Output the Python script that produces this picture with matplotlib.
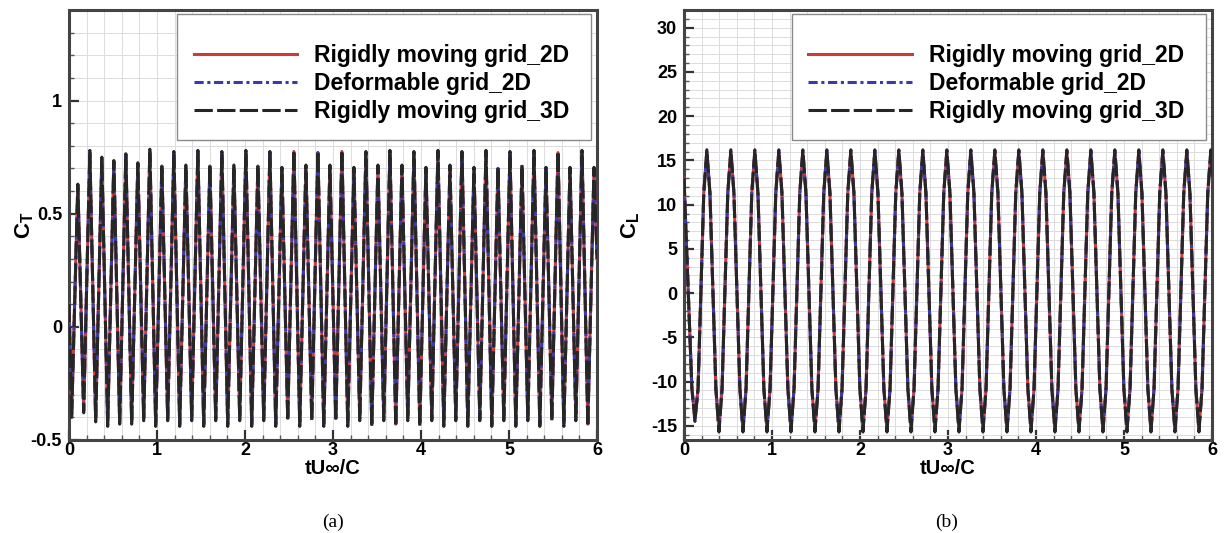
import numpy as np
import matplotlib
matplotlib.use("Agg")
import matplotlib.pyplot as plt
from matplotlib.ticker import MultipleLocator

plt.rcParams['font.family'] = ['Liberation Sans', 'DejaVu Sans']
plt.rcParams['font.weight'] = 'bold'
plt.rcParams['axes.unicode_minus'] = False
plt.rcParams['mathtext.fontset'] = 'custom'
plt.rcParams['mathtext.rm'] = 'Liberation Sans:bold'
plt.rcParams['mathtext.bf'] = 'Liberation Sans:bold'
plt.rcParams['mathtext.it'] = 'Liberation Sans:bold'

# ---------------- data ----------------
series_labels = ["Rigidly moving grid_2D", "Deformable grid_2D", "Rigidly moving grid_3D"]

# Thrust coefficient C_T : extrema of the oscillation
CT_start = [0.0, 0.10]            # (t, value) at t = 0
CT_end = [6.0, 0.30]              # (t, value) at right edge
CT_peak_t0, CT_trough_t0, CT_period = 0.10, 0.03, 0.1364
CT_peaks_2D = [0.63, 0.77, 0.745, 0.73, 0.76, 0.72, 0.78, 0.71, 0.77, 0.71, 0.775, 0.71,
               0.77, 0.71, 0.775, 0.71, 0.77, 0.70, 0.775, 0.71, 0.77, 0.71, 0.775, 0.70,
               0.77, 0.71, 0.775, 0.71, 0.77, 0.70, 0.775, 0.71, 0.77, 0.70, 0.775, 0.70,
               0.77, 0.71, 0.775, 0.70, 0.77, 0.70, 0.775, 0.70]
CT_troughs_2D = [-0.39, -0.37, -0.41, -0.43, -0.42, -0.42, -0.405, -0.43, -0.405, -0.43, -0.405, -0.43,
                 -0.405, -0.43, -0.405, -0.43, -0.405, -0.43, -0.405, -0.43, -0.405, -0.43, -0.405, -0.43,
                 -0.405, -0.43, -0.405, -0.43, -0.405, -0.43, -0.405, -0.43, -0.405, -0.43, -0.405, -0.43,
                 -0.405, -0.43, -0.405, -0.43, -0.405, -0.43, -0.405, -0.43]
CT_peaks_3D = [0.63, 0.78, 0.75, 0.735, 0.765, 0.725, 0.785, 0.715, 0.775, 0.715, 0.78, 0.715,
               0.775, 0.715, 0.78, 0.715, 0.775, 0.705, 0.78, 0.715, 0.775, 0.715, 0.78, 0.705,
               0.775, 0.715, 0.78, 0.715, 0.775, 0.705, 0.78, 0.715, 0.775, 0.705, 0.78, 0.705,
               0.775, 0.715, 0.78, 0.705, 0.775, 0.705, 0.78, 0.705]
CT_troughs_3D = [-0.40, -0.38, -0.42, -0.44, -0.43, -0.43, -0.415, -0.44, -0.415, -0.44, -0.415, -0.44,
                 -0.415, -0.44, -0.415, -0.44, -0.415, -0.44, -0.415, -0.44, -0.415, -0.44, -0.415, -0.44,
                 -0.415, -0.44, -0.415, -0.44, -0.415, -0.44, -0.415, -0.44, -0.415, -0.44, -0.415, -0.44,
                 -0.415, -0.44, -0.415, -0.44, -0.415, -0.44, -0.415, -0.44]

# Lift coefficient C_L : extrema of the oscillation, plus estimated shoulders
CL_start = [0.0, 13.0]
CL_peak_t0, CL_trough_t0, CL_period = 0.26, 0.125, 0.2727
CL_peaks_2D = [16.0, 16.0, 16.0, 16.0, 16.0, 16.0, 16.0, 16.0, 16.0, 16.0, 16.0,
               16.0, 16.0, 16.0, 16.0, 16.0, 16.0, 16.0, 16.0, 16.0, 16.0, 16.0]
CL_troughs_2D = [-14.2, -15.4, -15.4, -15.4, -15.4, -15.4, -15.4, -15.4, -15.4, -15.4, -15.4,
                 -15.4, -15.4, -15.4, -15.4, -15.4, -15.4, -15.4, -15.4, -15.4, -15.4, -15.4]
CL_peaks_3D = [16.2, 16.2, 16.2, 16.2, 16.2, 16.2, 16.2, 16.2, 16.2, 16.2, 16.2,
               16.2, 16.2, 16.2, 16.2, 16.2, 16.2, 16.2, 16.2, 16.2, 16.2, 16.2]
CL_troughs_3D = [-14.5, -15.7, -15.7, -15.7, -15.7, -15.7, -15.7, -15.7, -15.7, -15.7, -15.7,
                 -15.7, -15.7, -15.7, -15.7, -15.7, -15.7, -15.7, -15.7, -15.7, -15.7, -15.7]
CL_shoulder_dt = 0.035            # time offset of shoulder points from each extremum
CL_shoulder_hi = 11.3             # curve value that far from a peak
CL_shoulder_lo = -10.8            # curve value that far from a trough

x_ticks = [0, 1, 2, 3, 4, 5, 6]
CT_yticks = [-0.5, 0, 0.5, 1]
CT_yticklabels = ["-0.5", "0", "0.5", "1"]
CL_yticks = [-15, -10, -5, 0, 5, 10, 15, 20, 25, 30]


def assemble(start, peak_t0, trough_t0, period, peaks, troughs, end=None, shoulder=None):
    tp = peak_t0 + period * np.arange(len(peaks))
    tt = trough_t0 + period * np.arange(len(troughs))
    t = [np.array([start[0]]), tp, tt]
    v = [np.array([start[1]]), np.asarray(peaks, float), np.asarray(troughs, float)]
    if shoulder is not None:
        dt, hi, lo = shoulder
        for s in (-dt, dt):
            t.append(tp + s); v.append(np.full(len(tp), hi))
            t.append(tt + s); v.append(np.full(len(tt), lo))
    if end is not None:
        t.append(np.array([end[0]])); v.append(np.array([end[1]]))
    t = np.concatenate(t); v = np.concatenate(v)
    keep = t >= start[0]
    t, v = t[keep], v[keep]
    order = np.argsort(t)
    return t[order], v[order]


styles = [
    dict(color="#cc3b3b", lw=2.2, ls="-", zorder=3),
    dict(color="#3a3aa8", lw=2.2, ls=(0, (3, 1.2, 1, 1.2)), zorder=4),
    dict(color="#262626", lw=2.2, ls=(0, (6, 1.4)), zorder=5),
]

fig = plt.figure(figsize=(12.24, 5.33), dpi=100)
ax1 = fig.add_axes([0.0564, 0.1745, 0.4314, 0.8067])
ax2 = fig.add_axes([0.5588, 0.1745, 0.4314, 0.8067])

ct_sets = [(CT_peaks_2D, CT_troughs_2D), (CT_peaks_2D, CT_troughs_2D), (CT_peaks_3D, CT_troughs_3D)]
cl_sets = [(CL_peaks_2D, CL_troughs_2D), (CL_peaks_2D, CL_troughs_2D), (CL_peaks_3D, CL_troughs_3D)]

for lab, st, (pk, tr) in zip(series_labels, styles, ct_sets):
    t, v = assemble(CT_start, CT_peak_t0, CT_trough_t0, CT_period, pk, tr, CT_end)
    ax1.plot(t, v, label=lab, **st)
for lab, st, (pk, tr) in zip(series_labels, styles, cl_sets):
    t, v = assemble(CL_start, CL_peak_t0, CL_trough_t0, CL_period, pk, tr,
                    shoulder=(CL_shoulder_dt, CL_shoulder_hi, CL_shoulder_lo))
    ax2.plot(t, v, label=lab, **st)

ax1.set_ylim(-0.5, 1.4)
ax1.set_yticks(CT_yticks)
ax1.set_yticklabels(CT_yticklabels)
ax1.yaxis.set_minor_locator(MultipleLocator(0.1))
ax2.set_ylim(-16.6, 32)
ax2.set_yticks(CL_yticks)
ax2.yaxis.set_minor_locator(MultipleLocator(1))

for ax, ylab, lx in [(ax1, r'$\mathbf{C_T}$', -0.062), (ax2, r'$\mathbf{C_L}$', -0.080)]:
    ax.set_xlim(0, 6)
    ax.set_xticks(x_ticks)
    ax.xaxis.set_minor_locator(MultipleLocator(0.2))
    ax.grid(which='both', color='#dcdcdc', lw=0.7, zorder=0)
    ax.set_axisbelow(True)
    for sp in ax.spines.values():
        sp.set_linewidth(2.2)
        sp.set_color('#444444')
    ax.tick_params(which='major', direction='in', length=7, width=1.6, color='#333333',
                   labelsize=13, top=False, right=False)
    ax.tick_params(axis='x', which='major', pad=1.5)
    ax.tick_params(axis='y', which='major', pad=5)
    ax.tick_params(which='minor', direction='in', length=3.5, width=1.0, color='#555555',
                   top=False, right=False)
    for lbl in ax.get_xticklabels() + ax.get_yticklabels():
        lbl.set_fontweight('bold')
    ax.set_xlabel('tU\u221e/C', fontsize=14.5, fontweight='bold')
    ax.xaxis.set_label_coords(0.5, -0.044)
    ax.set_ylabel(ylab, fontsize=16)
    ax.yaxis.set_label_coords(lx, 0.5)
    leg = ax.legend(loc='upper left', bbox_to_anchor=(0.2045, 0.702, 0.784, 0.2885), mode='expand',
                    prop={'weight': 'bold', 'size': 16.5}, title=' ', title_fontsize=6.5,
                    borderpad=0.72, labelspacing=0.21, handlelength=4.5, handletextpad=0.75,
                    borderaxespad=0, fancybox=False, framealpha=1, edgecolor='#8a8a8a')
    leg.get_frame().set_linewidth(1.0)
    leg.set_zorder(10)

fig.text(333 / 1224, 1 - 522 / 533, '(a)', ha='center', va='center',
         family=['Liberation Serif', 'DejaVu Serif'], fontweight='normal', fontsize=14)
fig.text(947 / 1224, 1 - 522 / 533, '(b)', ha='center', va='center',
         family=['Liberation Serif', 'DejaVu Serif'], fontweight='normal', fontsize=14)

fig.savefig('out.png', dpi=100)
